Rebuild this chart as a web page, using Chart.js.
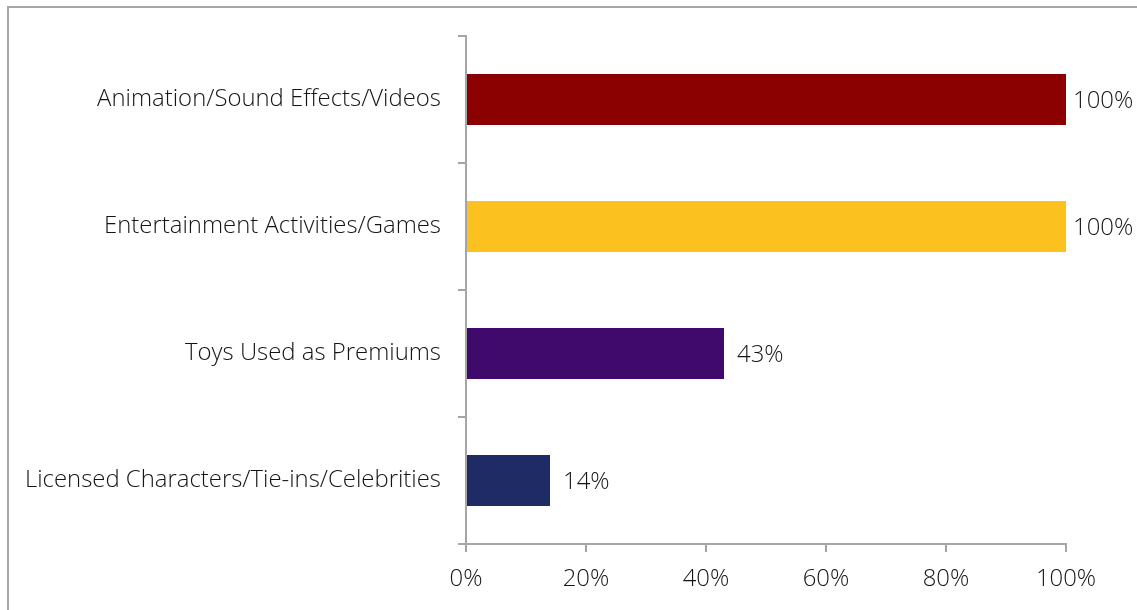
<!DOCTYPE html>
<html>
<head>
  <meta charset="UTF-8">
  <title>Engagement Techniques</title>
  <script src="https://cdn.jsdelivr.net/npm/chart.js"></script>
  <style>
    html, body { margin: 0; padding: 0; background: #fff; overflow: hidden; }
    #frame { position: absolute; left: 7px; top: 6px; width: 1300px; height: 800px;
             border-top: 2px solid #a6a6a6; border-left: 2px solid #a6a6a6; }
    #wrap { position: absolute; left: 0; top: 0; width: 1137px; height: 610px; }
  </style>
</head>
<body>
  <div id="frame"></div>
  <div id="wrap"><canvas id="chart"></canvas></div>

  <script>
    const categories = [
      'Animation/Sound Effects/Videos',
      'Entertainment Activities/Games',
      'Toys Used as Premiums',
      'Licensed Characters/Tie-ins/Celebrities'
    ];
    const shares = [100, 100, 43, 14];
    const barColors = ['#8b0000', '#fbc11f', '#3f0a6c', '#1e2b64'];
    const xTicks = [0, 20, 40, 60, 80, 100];

    const axisGray = '#a6a6a6';
    const textColor = '#141414';
    const fontFamily = '"Open Sans", sans-serif';
    const fontSize = 23.9;

    // percent label to the right of each bar
    const valueLabels = {
      id: 'valueLabels',
      afterDatasetsDraw(chart) {
        const ctx = chart.ctx;
        const meta = chart.getDatasetMeta(0);
        ctx.save();
        ctx.font = '300 ' + fontSize + 'px ' + fontFamily;
        ctx.fillStyle = textColor;
        ctx.textAlign = 'left';
        ctx.textBaseline = 'middle';
        meta.data.forEach((bar, i) => {
          const gap = shares[i] >= 100 ? 7 : 13;
          ctx.fillText(shares[i] + '%', bar.x + gap, bar.y + 2);
        });
        ctx.restore();
      }
    };

    new Chart(document.getElementById('chart').getContext('2d'), {
      type: 'bar',
      data: {
        labels: categories,
        datasets: [{
          data: shares,
          backgroundColor: barColors,
          barPercentage: 0.4,
          categoryPercentage: 1
        }]
      },
      options: {
        indexAxis: 'y',
        responsive: true,
        maintainAspectRatio: false,
        animation: false,
        layout: { padding: { top: 36, right: 71, left: 0, bottom: 0 } },
        plugins: { legend: { display: false }, tooltip: { enabled: false } },
        scales: {
          x: {
            min: 0,
            max: 100,
            afterBuildTicks(scale) { scale.ticks = xTicks.map(v => ({ value: v })); },
            afterFit(scale) { scale.height = 66; },
            ticks: {
              callback: v => v + '%',
              color: textColor,
              font: { family: fontFamily, size: fontSize, weight: '300' },
              padding: 13,
              maxRotation: 0
            },
            grid: { drawOnChartArea: false, drawTicks: true, tickLength: 8, color: axisGray, lineWidth: 2 },
            border: { color: axisGray, width: 2 }
          },
          y: {
            afterFit(scale) { scale.width = 466; },
            ticks: {
              color: textColor,
              font: { family: fontFamily, size: fontSize, weight: '300' },
              padding: 17
            },
            grid: { offset: true, drawOnChartArea: false, drawTicks: true, tickLength: 8, color: axisGray, lineWidth: 2 },
            border: { color: axisGray, width: 2 }
          }
        }
      },
      plugins: [valueLabels]
    });
  </script>
</body>
</html>
